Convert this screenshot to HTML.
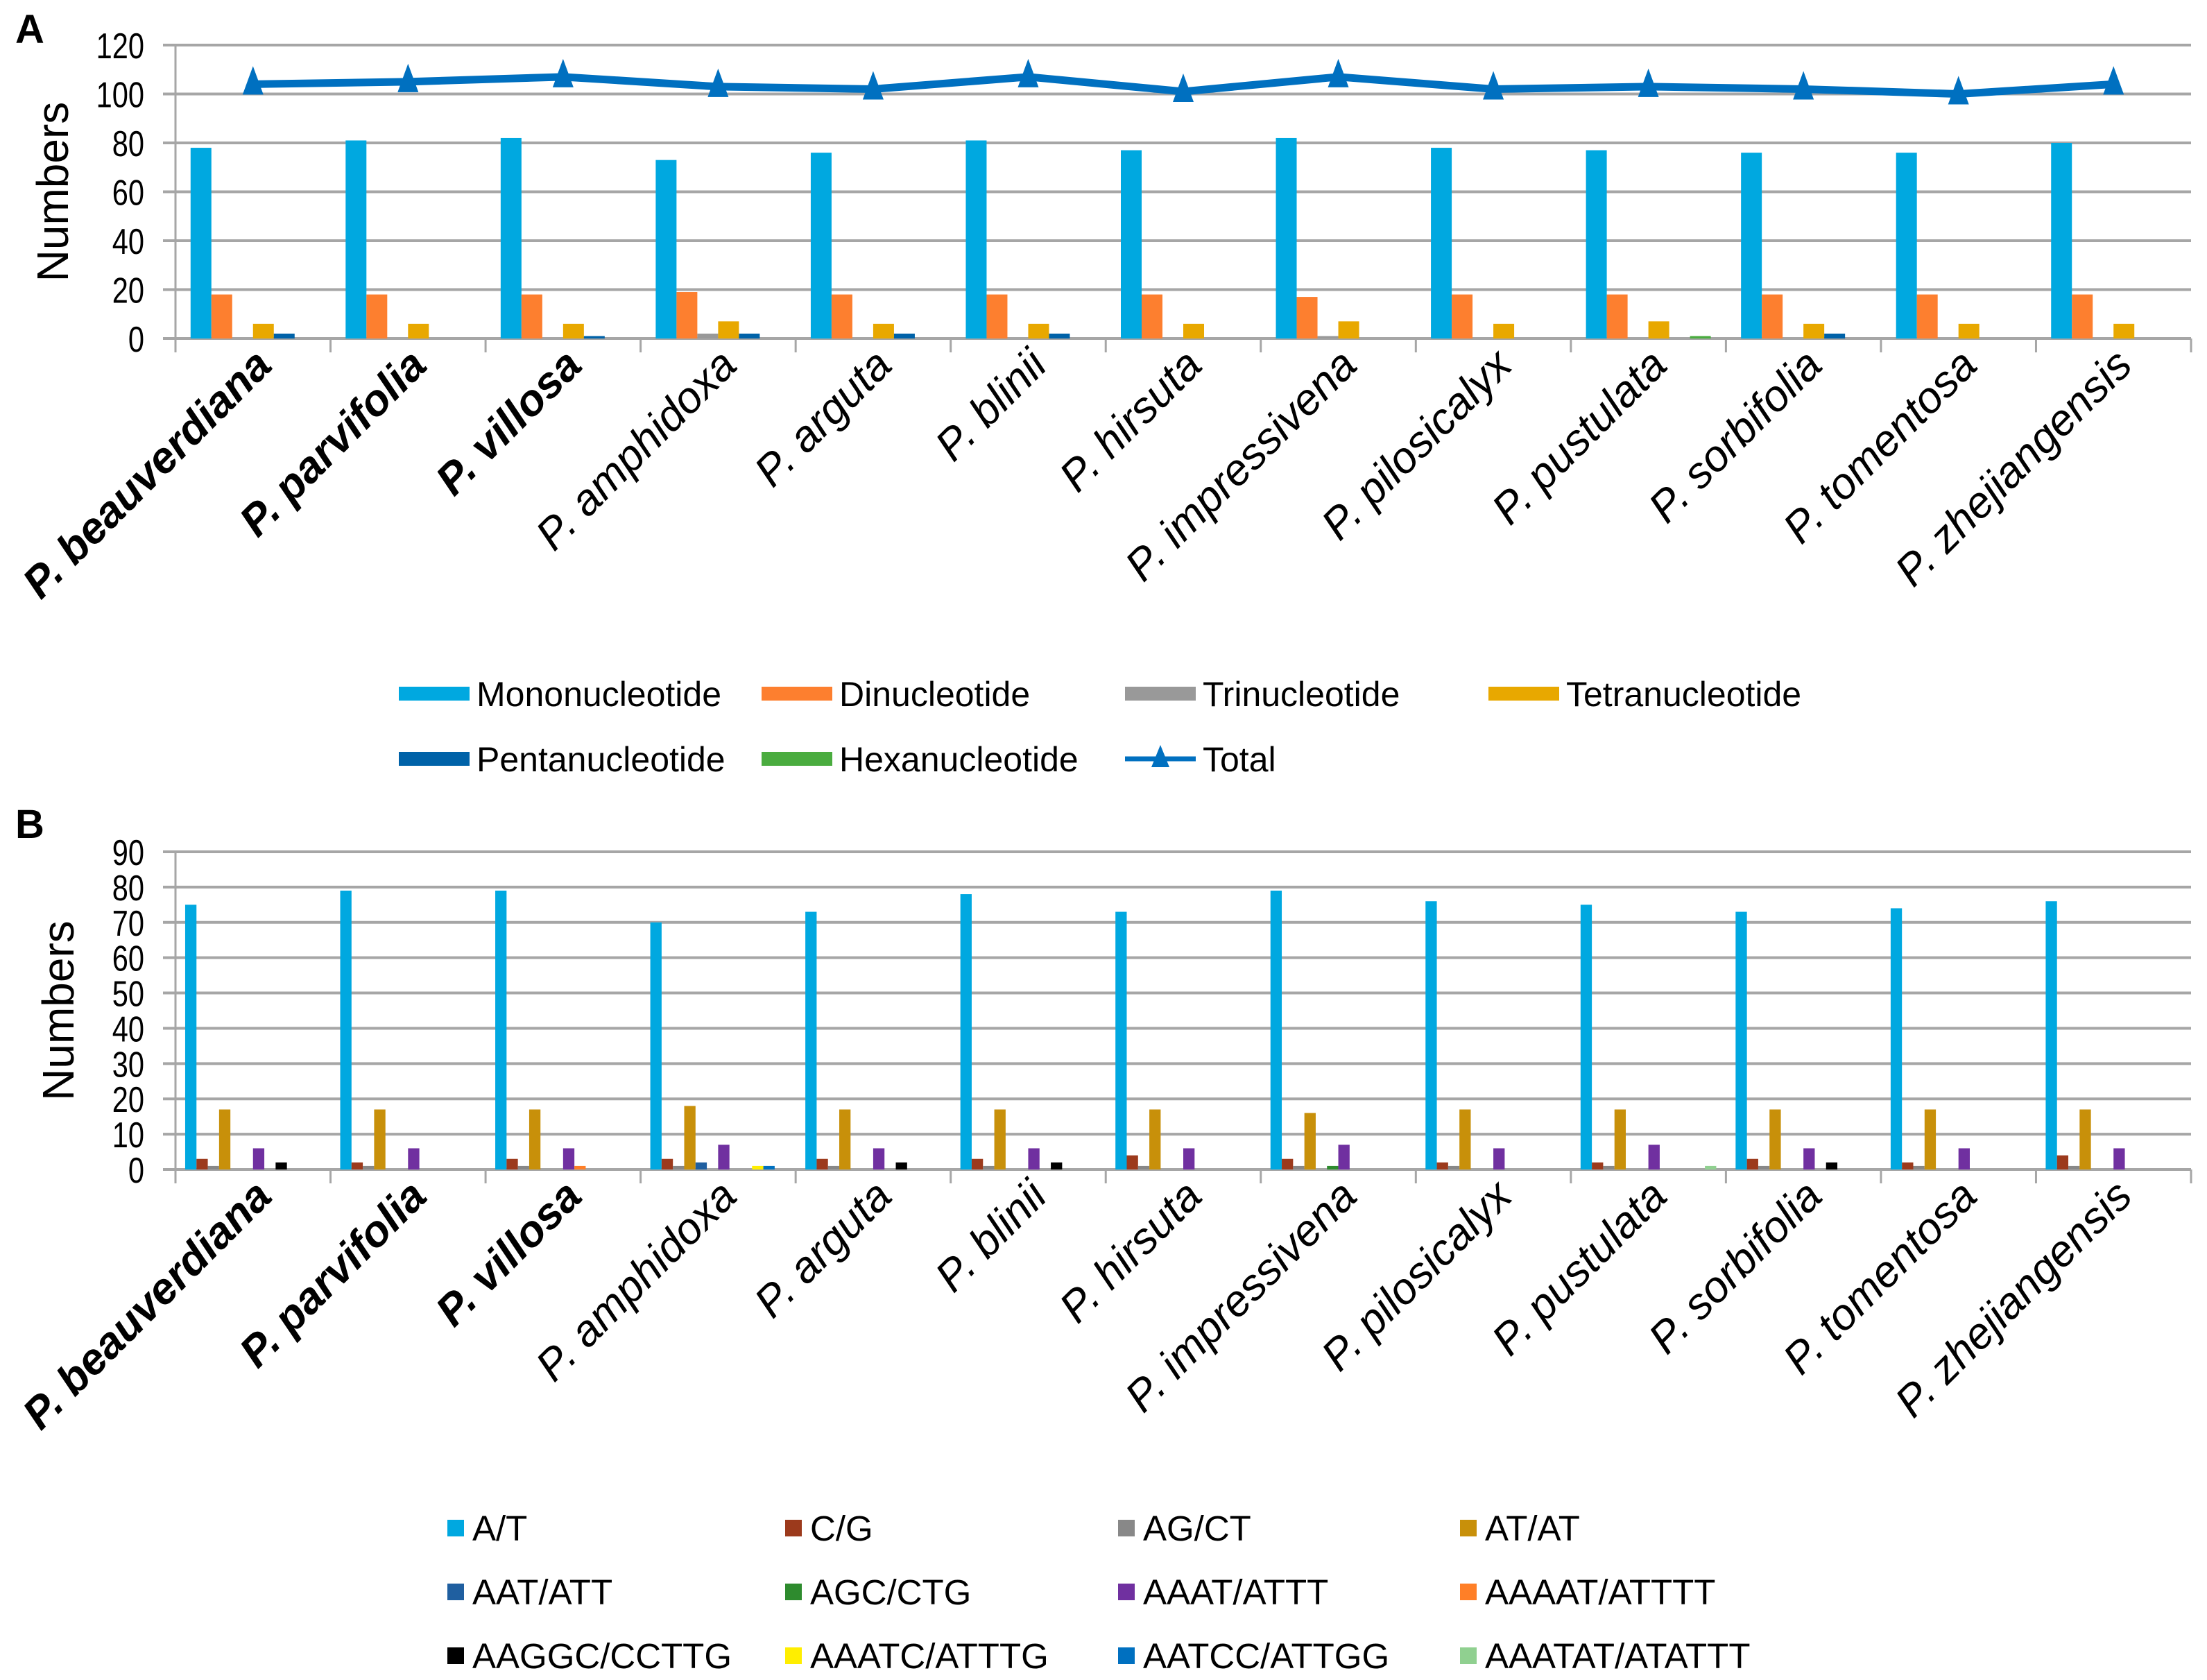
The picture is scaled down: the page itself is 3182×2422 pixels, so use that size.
<!DOCTYPE html>
<html><head><meta charset="utf-8">
<style>
html,body{margin:0;padding:0;background:#fff;}
svg{display:block;font-family:"Liberation Sans",Arial,sans-serif;}
</style></head>
<body>
<svg id="chart" width="3182" height="2422" viewBox="0 0 3182 2422" xmlns="http://www.w3.org/2000/svg">
<rect width="3182" height="2422" fill="#fff"/>
<g id="pa"></g>
<g id="pb"></g>
</svg>
<script>
const species = ["P. beauverdiana","P. parvifolia","P. villosa","P. amphidoxa","P. arguta","P. blinii","P. hirsuta","P. impressivena","P. pilosicalyx","P. pustulata","P. sorbifolia","P. tomentosa","P. zhejiangensis"];
const boldCount = 3;
// Panel A data
const aSeriesNames = ["Mononucleotide","Dinucleotide","Trinucleotide","Tetranucleotide","Pentanucleotide","Hexanucleotide"];
const aMono = [78,81,82,73,76,81,77,82,78,77,76,76,80];
const aDi = [18,18,18,19,18,18,18,17,18,18,18,18,18];
const aTri = [0,0,0,2,0,0,0,1,0,0,0,0,0];
const aTetra = [6,6,6,7,6,6,6,7,6,7,6,6,6];
const aPenta = [2,0,1,2,2,2,0,0,0,0,2,0,0];
const aHexa = [0,0,0,0,0,0,0,0,0,1,0,0,0];
const aTotal = [104,105,107,103,102,107,101,107,102,103,102,100,104];
const aTicks = [0,20,40,60,80,100,120];
// Panel B data
const bSeriesNames = ["A/T","C/G","AG/CT","AT/AT","AAT/ATT","AGC/CTG","AAAT/ATTT","AAAAT/ATTTT","AAGGC/CCTTG","AAATC/ATTTG","AATCC/ATTGG","AAATAT/ATATTT"];
const bAT1 = [75,79,79,70,73,78,73,79,76,75,73,74,76];
const bCG = [3,2,3,3,3,3,4,3,2,2,3,2,4];
const bAGCT = [1,1,1,1,1,1,1,1,1,1,1,1,1];
const bATAT = [17,17,17,18,17,17,17,16,17,17,17,17,17];
const bAAT = [0,0,0,2,0,0,0,0,0,0,0,0,0];
const bAGC = [0,0,0,0,0,0,0,1,0,0,0,0,0];
const bAAAT = [6,6,6,7,6,6,6,7,6,7,6,6,6];
const bAAAAT = [0,0,1,0,0,0,0,0,0,0,0,0,0];
const bAAGGC = [2,0,0,0,2,2,0,0,0,0,2,0,0];
const bAAATC = [0,0,0,1,0,0,0,0,0,0,0,0,0];
const bAATCC = [0,0,0,1,0,0,0,0,0,0,0,0,0];
const bAAATAT = [0,0,0,0,0,0,0,0,0,1,0,0,0];
const bTicks = [0,10,20,30,40,50,60,70,80,90];

const NS="http://www.w3.org/2000/svg";
function mk(parent,tag,attrs,text){const e=document.createElementNS(NS,tag);for(const k in attrs)e.setAttribute(k,attrs[k]);if(text!==undefined)e.textContent=text;parent.appendChild(e);return e;}

function drawPanel(g,cfg){
  const x0=253,x1=3159,gw=(x1-x0)/species.length;
  const y=v=>cfg.yb-(v/cfg.max)*(cfg.yb-cfg.yt);
  cfg.ticks.forEach(t=>{
    const l=mk(g,'line',{x1:x0-18,x2:x1,y1:y(t),y2:y(t),stroke:'#a6a6a6','stroke-width':4});
    
    
    const tx=mk(g,'text',{x:0,y:0,'text-anchor':'end','font-size':52,fill:'#000',transform:`translate(208 ${y(t)+19}) scale(0.8 1)`},String(t));
    
    
  });
  mk(g,'line',{x1:x0,x2:x0,y1:cfg.yt,y2:cfg.yb+20,stroke:'#a6a6a6','stroke-width':3});
  for(let i=0;i<=species.length;i++){
    const tk=mk(g,'line',{x1:x0+i*gw,x2:x0+i*gw,y1:cfg.yb,y2:cfg.yb+20,stroke:'#a6a6a6','stroke-width':3});
    
    
  }
  const n=cfg.series.length, bw=cfg.bw, off=(gw-n*bw)/2;
  cfg.series.forEach((arr,si)=>{
    arr.forEach((v,i)=>{
      if(v<=0)return;
      const r=mk(g,'rect',{x:x0+i*gw+off+si*bw,y:y(v),width:bw,height:cfg.yb-y(v),fill:cfg.colors[si]});
      
      
    });
  });
  if(cfg.total){
    const pts=cfg.total.map((v,i)=>(x0+(i+0.5)*gw)+','+y(v)).join(' ');
    const pl=mk(g,'polyline',{points:pts,fill:'none',stroke:'#0070c0','stroke-width':11,'stroke-linejoin':'round'});
    
    
    cfg.total.forEach((v,i)=>{
      const cx=x0+(i+0.5)*gw, cy=y(v);
      const m=mk(g,'polygon',{points:`${cx},${cy-26} ${cx-15},${cy+15} ${cx+15},${cy+15}`,fill:'#0070c0'});
      
      
    });
  }
  species.forEach((s,i)=>{
    const cx=x0+(i+0.5)*gw+30, cy=cfg.yb+42;
    const t=mk(g,'text',{x:cx,y:cy,'text-anchor':'end','font-size':63,'font-style':'italic','font-weight':i<boldCount?'bold':'normal',transform:`rotate(-45 ${cx} ${cy})`},s);
    
    
  });
  const ay=(cfg.yt+cfg.yb)/2;
  const at=mk(g,'text',{x:cfg.titleX,y:ay,'text-anchor':'middle','font-size':64,transform:`rotate(-90 ${cfg.titleX} ${ay})`},'Numbers');
  
  
  const pl2=mk(g,'text',{x:22,y:cfg.letterY,'font-size':58,'font-weight':'bold'},cfg.letter);
  
  
}

const ga=document.getElementById('pa');
drawPanel(ga,{yt:65,yb:488,max:120,ticks:aTicks,bw:30,
  series:[aMono,aDi,aTri,aTetra,aPenta,aHexa],
  keys:['mono','di','tri','tetra','penta','hexa'],
  colors:['#00a8e0','#fd7f2f','#999999','#e8a800','#0062a8','#4aac3f'],
  total:aTotal,titleX:98,letter:'A',letterY:62});

const gb=document.getElementById('pb');
drawPanel(gb,{yt:1228,yb:1686,max:90,ticks:bTicks,bw:16.3,
  series:[bAT1,bCG,bAGCT,bATAT,bAAT,bAGC,bAAAT,bAAAAT,bAAGGC,bAAATC,bAATCC,bAAATAT],
  keys:['a-t','c-g','ag-ct','at-at','aat-att','agc-ctg','aaat-attt','aaaat-atttt','aaggc-ccttg','aaatc-atttg','aatcc-attgg','aaatat-atattt'],
  colors:['#00a8e0','#9c3a1c','#888888','#c8900a','#1f5fa0','#2e8b2e','#7030a0','#ff7f27','#000000','#ffee00','#0070c0','#90d090'],
  total:null,titleX:106,letter:'B',letterY:1208});

const aColors=['#00a8e0','#fd7f2f','#999999','#e8a800','#0062a8','#4aac3f'];
const aLegCols=[575,1098,1622,2146], aLegRows=[1000,1094];
const aLeg=mk(ga,'g',{});


aSeriesNames.concat(['Total']).forEach((nm,i)=>{
  const cx=aLegCols[i%4], cy=aLegRows[Math.floor(i/4)];
  const e=mk(aLeg,'g',{});
  
  
  if(nm==='Total'){
    mk(e,'line',{x1:cx,x2:cx+102,y1:cy,y2:cy,stroke:'#0070c0','stroke-width':7});
    mk(e,'polygon',{points:`${cx+51},${cy-20} ${cx+38},${cy+12} ${cx+64},${cy+12}`,fill:'#0070c0'});
  } else mk(e,'rect',{x:cx,y:cy-10,width:102,height:20,fill:aColors[i]});
  mk(e,'text',{x:cx+112,y:cy+18,'font-size':50},nm);
});
const bColors=['#00a8e0','#9c3a1c','#888888','#c8900a','#1f5fa0','#2e8b2e','#7030a0','#ff7f27','#000000','#ffee00','#0070c0','#90d090'];
const bLegCols=[645,1132,1612,2105], bLegRows=[2203,2295,2387];
const bLeg=mk(gb,'g',{});


bSeriesNames.forEach((nm,i)=>{
  const cx=bLegCols[i%4], cy=bLegRows[Math.floor(i/4)];
  const e=mk(bLeg,'g',{});
  
  
  mk(e,'rect',{x:cx,y:cy-12,width:24,height:24,fill:bColors[i]});
  mk(e,'text',{x:cx+36,y:cy+18,'font-size':51},nm);
});
</script>
</body></html>
